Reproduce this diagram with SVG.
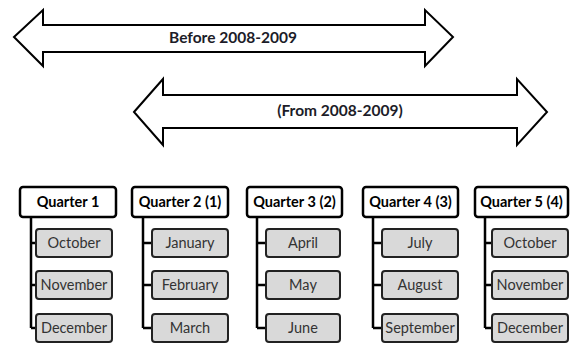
<svg xmlns="http://www.w3.org/2000/svg" width="571" height="343" viewBox="0 0 571 343">
<style>
.arrow{fill:#fff;stroke:#000;stroke-width:2;stroke-linejoin:miter}
.atext{font-family:Lato,"Open Sans",sans-serif;font-weight:bold;font-size:15.5px;fill:#1c1c28;text-anchor:middle}
.parent rect{fill:#fff;stroke:#000;stroke-width:2.5}
.parent text{font-family:Lato,"Open Sans",sans-serif;font-weight:bold;font-size:14.5px;fill:#000;text-anchor:middle}
.child rect{fill:#d9d9d9;stroke:#222;stroke-width:2}
.child text{font-family:Lato,"Open Sans",sans-serif;font-size:14.5px;fill:#333;text-anchor:middle}
.conn path{fill:none;stroke:#000;stroke-width:2.5}
</style>
<rect width="571" height="343" fill="#fff"/>
<g id="arrow-before">
<polygon class="arrow" points="14,37 43,10 43,25 425,25 425,10 453,37 425,66 425,52 43,52 43,66"/>
<text class="atext" x="233" y="43">Before 2008-2009</text>
</g>
<g id="arrow-from">
<polygon class="arrow" points="134,112 163,79 163,95 517,95 517,79 547,112 517,145 517,128 163,128 163,145"/>
<text class="atext" x="340" y="116">(From 2008-2009)</text>
</g>
<g class="conn" id="connectors">
<path d="M31,217 V328 M31,243 H36 M31,285 H36 M31,328 H36"/>
<path d="M143,217 V328 M143,243 H152 M143,285 H152 M143,328 H152"/>
<path d="M257,217 V328 M257,243 H266 M257,285 H266 M257,328 H266"/>
<path d="M373,217 V328 M373,243 H382 M373,285 H382 M373,328 H382"/>
<path d="M485,217 V328 M485,243 H492 M485,285 H492 M485,328 H492"/>
</g>
<g class="parent" id="q1"><rect x="20" y="187" width="96" height="30" rx="3"/><text x="68" y="207">Quarter 1</text></g>
<g class="parent" id="q2"><rect x="132" y="187" width="96" height="30" rx="3"/><text x="180" y="207">Quarter 2 (1)</text></g>
<g class="parent" id="q3"><rect x="247" y="187" width="95" height="30" rx="3"/><text x="294.5" y="207">Quarter 3 (2)</text></g>
<g class="parent" id="q4"><rect x="363" y="187" width="95" height="30" rx="3"/><text x="410.5" y="207">Quarter 4 (3)</text></g>
<g class="parent" id="q5"><rect x="475" y="187" width="93" height="30" rx="3"/><text x="521.5" y="207">Quarter 5 (4)</text></g>
<g class="child" id="q1-oct"><rect x="36" y="229" width="76" height="28" rx="3"/><text x="74" y="248">October</text></g>
<g class="child" id="q1-nov"><rect x="36" y="271" width="76" height="28" rx="3"/><text x="74" y="290">November</text></g>
<g class="child" id="q1-dec"><rect x="36" y="314" width="76" height="28" rx="3"/><text x="74" y="333">December</text></g>
<g class="child" id="q2-jan"><rect x="152" y="229" width="76" height="28" rx="3"/><text x="190" y="248">January</text></g>
<g class="child" id="q2-feb"><rect x="152" y="271" width="76" height="28" rx="3"/><text x="190" y="290">February</text></g>
<g class="child" id="q2-mar"><rect x="152" y="314" width="76" height="28" rx="3"/><text x="190" y="333">March</text></g>
<g class="child" id="q3-apr"><rect x="266" y="229" width="74" height="28" rx="3"/><text x="303" y="248">April</text></g>
<g class="child" id="q3-may"><rect x="266" y="271" width="74" height="28" rx="3"/><text x="303" y="290">May</text></g>
<g class="child" id="q3-jun"><rect x="266" y="314" width="74" height="28" rx="3"/><text x="303" y="333">June</text></g>
<g class="child" id="q4-jul"><rect x="382" y="229" width="76" height="28" rx="3"/><text x="420" y="248">July</text></g>
<g class="child" id="q4-aug"><rect x="382" y="271" width="76" height="28" rx="3"/><text x="420" y="290">August</text></g>
<g class="child" id="q4-sep"><rect x="382" y="314" width="76" height="28" rx="3"/><text x="420" y="333">September</text></g>
<g class="child" id="q5-oct"><rect x="492" y="229" width="76" height="28" rx="3"/><text x="530" y="248">October</text></g>
<g class="child" id="q5-nov"><rect x="492" y="271" width="76" height="28" rx="3"/><text x="530" y="290">November</text></g>
<g class="child" id="q5-dec"><rect x="492" y="314" width="76" height="28" rx="3"/><text x="530" y="333">December</text></g>
</svg>
